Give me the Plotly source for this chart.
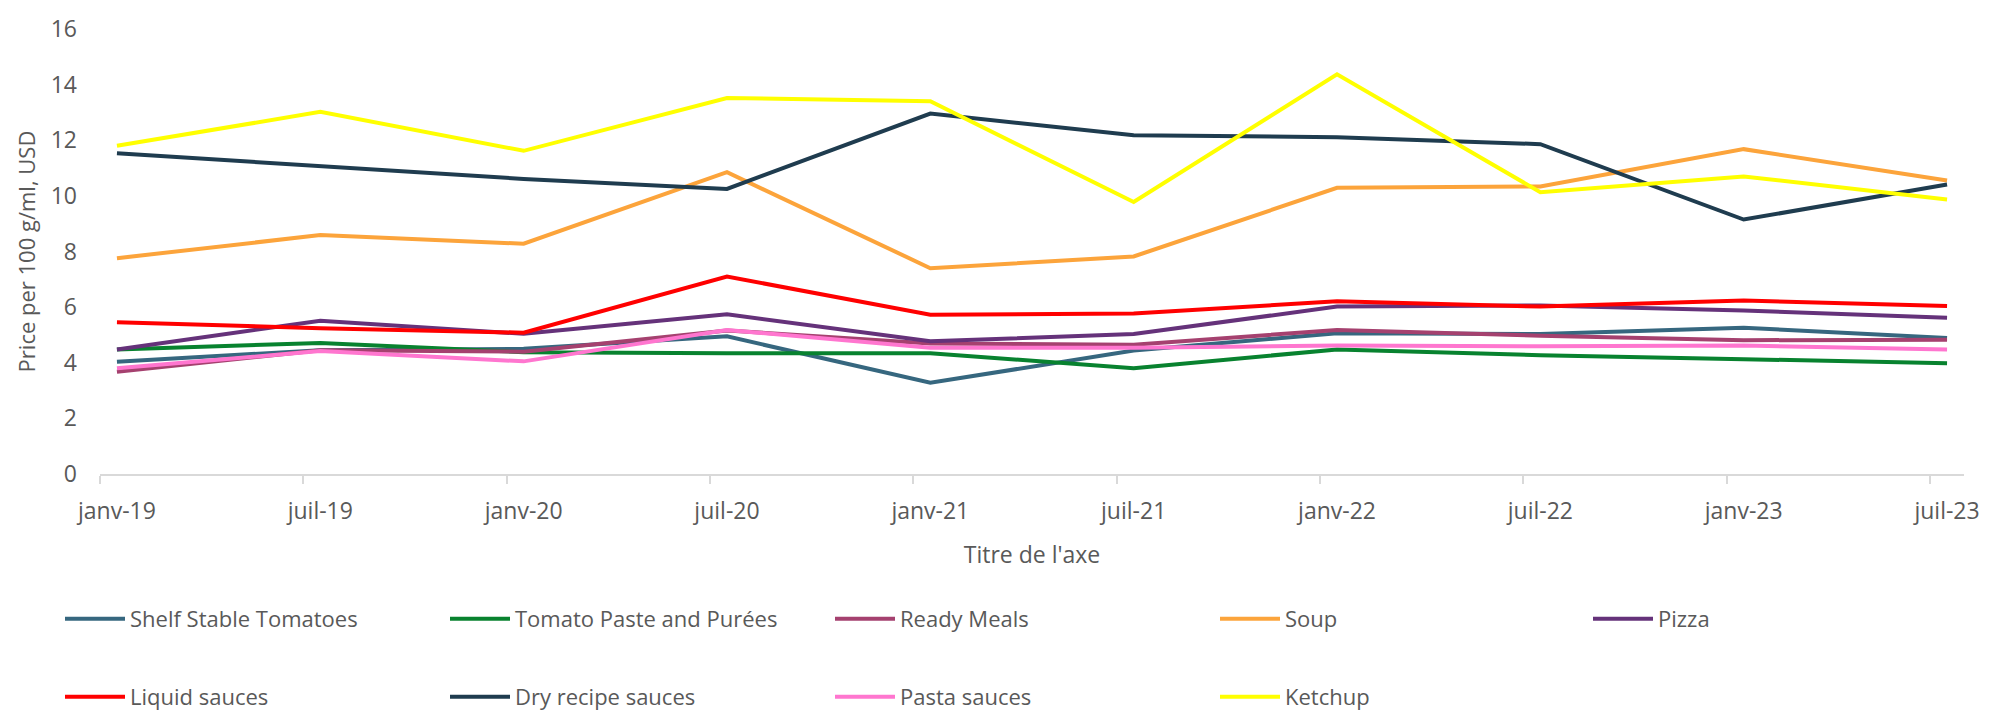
import plotly.graph_objects as go

# Months since janv-19; one observation every six months
months = [0, 6, 12, 18, 24, 30, 36, 42, 48, 54]
period_labels = ["janv-19", "juil-19", "janv-20", "juil-20", "janv-21",
                 "juil-21", "janv-22", "juil-22", "janv-23", "juil-23"]

# Price per 100 g/ml, USD
shelf_stable_tomatoes = [4.04, 4.45, 4.50, 4.95, 3.28, 4.44, 5.06, 5.03, 5.26, 4.89]
tomato_paste_purees = [4.48, 4.71, 4.38, 4.34, 4.34, 3.80, 4.48, 4.27, 4.13, 3.98]
ready_meals = [3.68, 4.45, 4.40, 5.16, 4.69, 4.65, 5.18, 4.97, 4.81, 4.83]
soup = [7.76, 8.59, 8.28, 10.85, 7.40, 7.82, 10.29, 10.34, 11.68, 10.55]
pizza = [4.48, 5.51, 5.04, 5.74, 4.77, 5.03, 6.02, 6.06, 5.88, 5.62]
liquid_sauces = [5.46, 5.24, 5.08, 7.10, 5.73, 5.77, 6.21, 6.02, 6.24, 6.04]
dry_recipe_sauces = [11.53, 11.07, 10.61, 10.25, 12.96, 12.18, 12.11, 11.86, 9.15, 10.41]
pasta_sauces = [3.80, 4.42, 4.05, 5.18, 4.54, 4.54, 4.62, 4.59, 4.62, 4.48]
ketchup = [11.80, 13.02, 11.62, 13.52, 13.40, 9.78, 14.37, 10.13, 10.70, 9.87]

series = [
    ("Shelf Stable Tomatoes", shelf_stable_tomatoes, "#36677F", "legend"),
    ("Tomato Paste and Purées", tomato_paste_purees, "#08822F", "legend"),
    ("Ready Meals", ready_meals, "#A5416F", "legend"),
    ("Soup", soup, "#FCA43B", "legend"),
    ("Pizza", pizza, "#65327A", "legend3"),
    ("Liquid sauces", liquid_sauces, "#FF0000", "legend2"),
    ("Dry recipe sauces", dry_recipe_sauces, "#1F3C4F", "legend2"),
    ("Pasta sauces", pasta_sauces, "#FF76CF", "legend2"),
    ("Ketchup", ketchup, "#FFFF00", "legend2"),
]

FONT = "Open Sans"
TEXT = "#595959"
SIZE = 23

fig = go.Figure()
for name, values, color, leg in series:
    fig.add_trace(go.Scatter(
        x=months, y=values, name=name, mode="lines",
        line=dict(color=color, width=4),
        legend=leg,
    ))

legend_common = dict(
    orientation="h",
    xref="container", yref="container",
    xanchor="left", yanchor="middle",
    entrywidth=310, entrywidthmode="pixels",
    itemwidth=60,
    font=dict(family=FONT, size=22, color=TEXT),
    bgcolor="rgba(0,0,0,0)",
    traceorder="normal",
)

fig.update_layout(
    width=2000, height=715,
    margin=dict(l=100, r=36, t=18, b=241),
    paper_bgcolor="white", plot_bgcolor="white",
    font=dict(family=FONT, color=TEXT),
    showlegend=True,
    legend=dict(legend_common, x=60 / 2000, y=1 - 619 / 715),
    legend3=dict(legend_common, x=1588 / 2000, y=1 - 619 / 715),
    legend2=dict(legend_common, x=60 / 2000, y=1 - 697 / 715),
    xaxis=dict(
        range=[-0.5, 54.5],
        tickmode="array", tickvals=months, ticktext=period_labels,
        ticks="", showgrid=False, zeroline=False,
        showline=True, linecolor="#D9D9D9", linewidth=1.5,
        ticklabelstandoff=16,
        tickfont=dict(family=FONT, size=SIZE, color=TEXT),
        minor=dict(tickmode="array", tickvals=[m - 0.5 for m in months],
                   ticks="outside", ticklen=8, tickcolor="#D9D9D9",
                   tickwidth=1.5, showgrid=False),
        title=dict(text="Titre de l'axe", font=dict(family=FONT, size=SIZE, color=TEXT),
                   standoff=22),
    ),
    yaxis=dict(
        range=[0, 16], dtick=2, tick0=0,
        showgrid=False, zeroline=False, showline=False,
        ticks="", ticklabelstandoff=22,
        tickfont=dict(family=FONT, size=SIZE, color=TEXT),
        title=dict(text="Price per 100 g/ml, USD",
                   font=dict(family=FONT, size=22, color=TEXT), standoff=8),
    ),
)

fig.write_html("out.html")
